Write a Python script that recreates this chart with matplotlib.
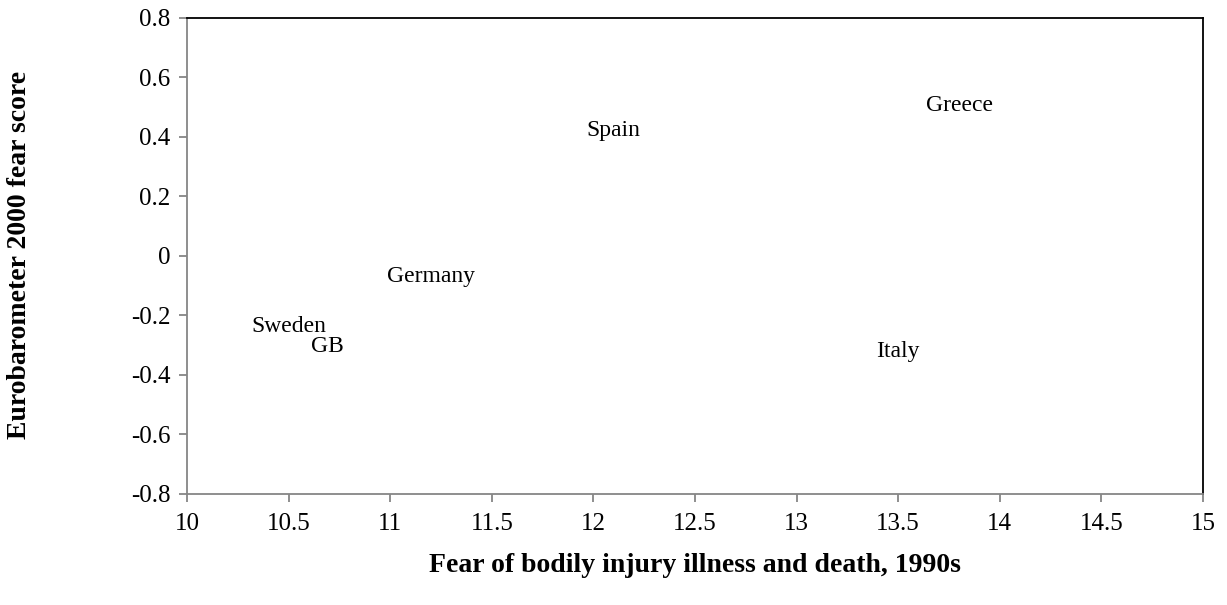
import matplotlib.pyplot as plt

countries = ["Sweden", "GB", "Germany", "Spain", "Greece", "Italy"]
fear_1990s = [10.50, 10.69, 11.20, 12.10, 13.80, 13.50]
euro_2000 = [-0.239, -0.306, -0.071, 0.42, 0.503, -0.323]

plt.rcParams['font.family'] = ['Liberation Serif', 'DejaVu Serif']

fig = plt.figure(figsize=(12.27, 6.05), dpi=100)
ax = fig.add_axes([187/1227, 1 - 494/605, (1203-187)/1227, (494-17.5)/605])

for name, x, y in zip(countries, fear_1990s, euro_2000):
    ax.text(x, y, name, ha='center', va='center', fontsize=17)

ax.set_xlim(10, 15)
ax.set_ylim(-0.8, 0.8)
ax.set_xticks([10, 10.5, 11, 11.5, 12, 12.5, 13, 13.5, 14, 14.5, 15])
ax.set_xticklabels(["10", "10.5", "11", "11.5", "12", "12.5", "13", "13.5", "14", "14.5", "15"])
ax.set_yticks([-0.8, -0.6, -0.4, -0.2, 0, 0.2, 0.4, 0.6, 0.8])
ax.set_yticklabels(["-0.8", "-0.6", "-0.4", "-0.2", "0", "0.2", "0.4", "0.6", "0.8"])
ax.tick_params(labelsize=18, color='#868686', length=6, width=1.3, pad=8)
ax.tick_params(axis='y', pad=6)

ax.spines['left'].set_color('#868686')
ax.spines['bottom'].set_color('#868686')
ax.spines['top'].set_color('black')
ax.spines['right'].set_color('black')
for s in ax.spines.values():
    s.set_linewidth(1.3)

fig.text(695/1227, 1 - 565/605, "Fear of bodily injury illness and death, 1990s",
         fontsize=20, fontweight='bold', ha='center', va='center')
fig.text(20/1227, 1 - 255/605, "Eurobarometer 2000 fear score",
         fontsize=20, fontweight='bold', ha='center', va='center', rotation=90)

fig.savefig("out.png", dpi=100)
